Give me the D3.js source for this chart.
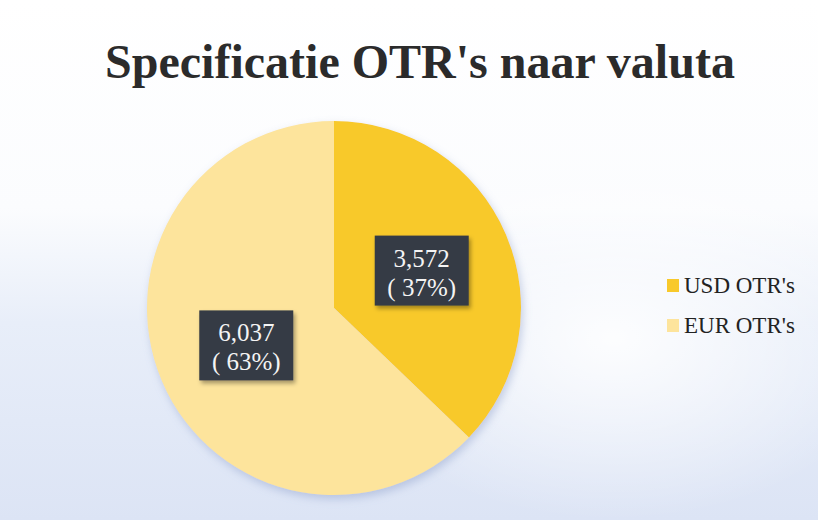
<!DOCTYPE html>
<html>
<head>
<meta charset="utf-8">
<script src="https://cdn.jsdelivr.net/npm/d3@7"></script>
<style>
  body { margin: 0; background: #fff; }
</style>
</head>
<body>
<div id="pie_chart"></div>
<script>
// data
var categories = ["USD OTR's", "EUR OTR's"];
var values = [3572, 6037];
var percentLabels = ["( 37%)", "( 63%)"];
var valueLabels = ["3,572", "6,037"];
var chartTitle = "Specificatie OTR's naar valuta";

var width = 818, height = 520;

var svg = d3.select("#pie_chart")
  .append("svg")
  .attr("width", width)
  .attr("height", height);

var defs = svg.append("defs");

// scanned paper background: white on top, pale blue further down
var bg = defs.append("linearGradient")
  .attr("id", "bg")
  .attr("x1", 0).attr("y1", 0).attr("x2", 0).attr("y2", 1);
bg.append("stop").attr("offset", "0%").attr("stop-color", "#ffffff");
bg.append("stop").attr("offset", "40%").attr("stop-color", "#fbfcfe");
bg.append("stop").attr("offset", "62%").attr("stop-color", "#e8eef9");
bg.append("stop").attr("offset", "100%").attr("stop-color", "#dce4f5");

var glow = defs.append("radialGradient")
  .attr("id", "glow")
  .attr("cx", "0.75").attr("cy", "0.65").attr("r", "0.35");
glow.append("stop").attr("offset", "0%").attr("stop-color", "#ffffff").attr("stop-opacity", 0.9);
glow.append("stop").attr("offset", "100%").attr("stop-color", "#ffffff").attr("stop-opacity", 0);

var shadow = defs.append("filter").attr("id", "shadow")
  .attr("x", "-20%").attr("y", "-20%").attr("width", "150%").attr("height", "150%");
shadow.append("feDropShadow")
  .attr("dx", 2).attr("dy", 3).attr("stdDeviation", 2)
  .attr("flood-color", "#000").attr("flood-opacity", 0.35);

var pieShadow = defs.append("filter").attr("id", "pieShadow")
  .attr("x", "-20%").attr("y", "-20%").attr("width", "140%").attr("height", "140%");
pieShadow.append("feDropShadow")
  .attr("dx", 2).attr("dy", 4).attr("stdDeviation", 4)
  .attr("flood-color", "#8a9cc8").attr("flood-opacity", 0.45);

svg.append("rect").attr("width", width).attr("height", height).attr("fill", "url(#bg)");
svg.append("rect").attr("width", width).attr("height", height).attr("fill", "url(#glow)");

// title
svg.append("text")
  .attr("x", 420)
  .attr("y", 78)
  .attr("text-anchor", "middle")
  .style("font-family", "'Liberation Serif', 'Times New Roman', serif")
  .style("font-weight", "bold")
  .style("font-size", "48px")
  .style("fill", "#2b2b2b")
  .text(chartTitle);

var color = d3.scaleOrdinal()
  .domain(categories)
  .range(["#f8c92b", "#fde49c"]);

var radius = 187;
var cx = 334, cy = 308;

var pie = d3.pie().sort(null).value(function(d) { return d.value; });
var data = categories.map(function(c, i) {
  return { name: c, value: values[i], val: valueLabels[i], pct: percentLabels[i] };
});

var arc = d3.arc().innerRadius(0).outerRadius(radius);
var labelArc = d3.arc().innerRadius(radius * 0.51).outerRadius(radius * 0.51);

var g = svg.append("g").attr("transform", "translate(" + cx + "," + cy + ")");

g.append("g")
  .attr("filter", "url(#pieShadow)")
  .selectAll("path")
  .data(pie(data))
  .enter()
  .append("path")
    .attr("d", arc)
    .attr("fill", function(d) { return color(d.data.name); });

// dark label boxes
var labels = g.selectAll(".lbl")
  .data(pie(data))
  .enter()
  .append("g")
    .attr("class", "lbl")
    .attr("transform", function(d) {
      var c = labelArc.centroid(d);
      return "translate(" + c[0] + "," + c[1] + ")";
    });

labels.append("rect")
  .attr("x", -47).attr("y", -35)
  .attr("width", 94).attr("height", 70)
  .attr("fill", "#363b44")
  .attr("filter", "url(#shadow)");

labels.append("text")
  .attr("text-anchor", "middle")
  .attr("y", -4)
  .style("font-family", "'Liberation Serif', 'Times New Roman', serif")
  .style("font-size", "25px")
  .style("fill", "#f4f4f4")
  .text(function(d) { return d.data.val; });

labels.append("text")
  .attr("text-anchor", "middle")
  .attr("y", 25)
  .style("font-family", "'Liberation Serif', 'Times New Roman', serif")
  .style("font-size", "25px")
  .style("fill", "#f4f4f4")
  .text(function(d) { return d.data.pct; });

// legend
var legend = svg.append("g")
  .attr("transform", "translate(667,277)")
  .selectAll("g")
  .data(categories)
  .enter()
  .append("g")
    .attr("transform", function(d, i) { return "translate(0," + (i * 40) + ")"; });

legend.append("rect")
  .attr("width", 12).attr("height", 13)
  .attr("y", 2)
  .attr("fill", function(d) { return color(d); });

legend.append("text")
  .attr("x", 17)
  .attr("y", 16)
  .style("font-family", "'Liberation Serif', 'Times New Roman', serif")
  .style("font-size", "23px")
  .style("fill", "#222")
  .text(function(d) { return d; });
</script>
</body>
</html>
